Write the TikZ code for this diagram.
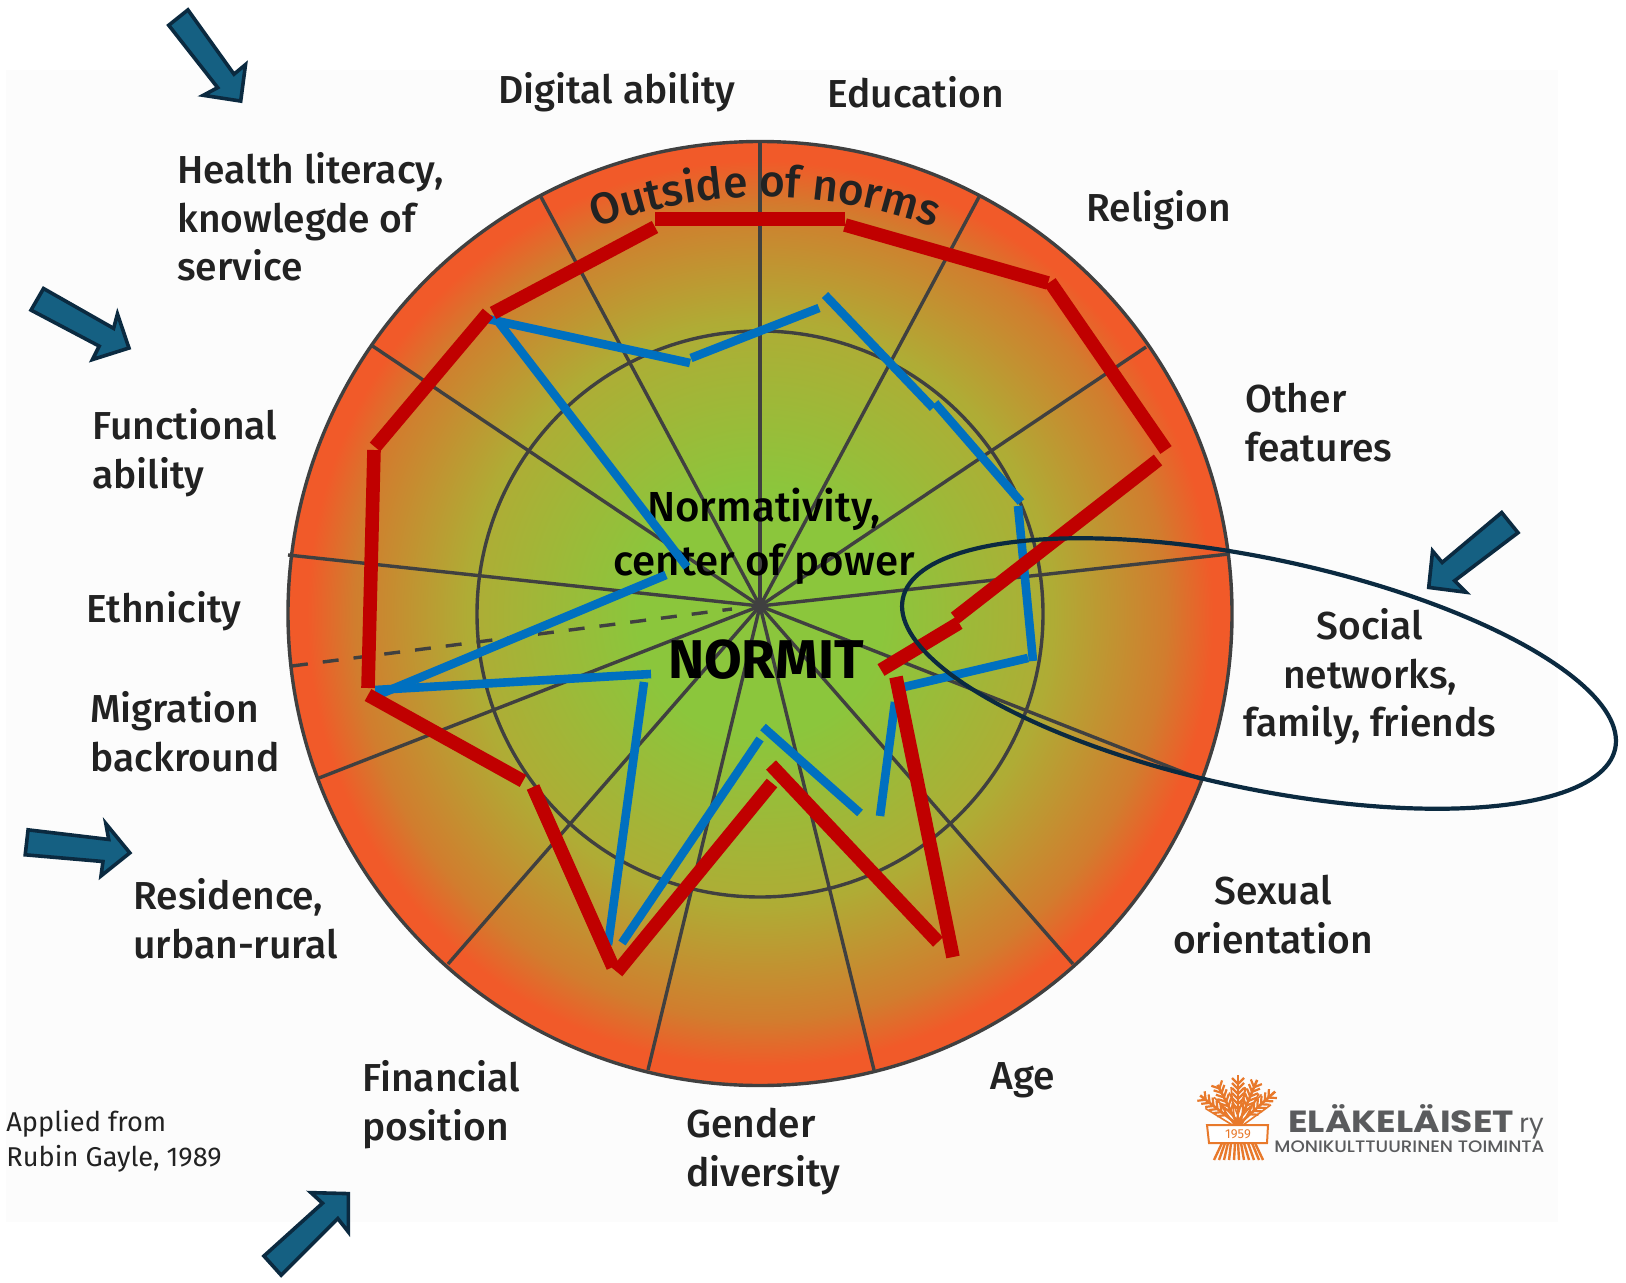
\documentclass[tikz,border=0pt]{standalone}
\usepackage{fontspec}
\usetikzlibrary{decorations.text}
\setmainfont{Fira Sans}
\newfontfamily\medfont{Fira Sans Medium}
\newfontfamily\logofont{Poppins}
\newfontfamily\logomed{Poppins Medium}
\definecolor{pagebg}{HTML}{FCFCFC}
\definecolor{spoke}{HTML}{404040}
\definecolor{normred}{HTML}{C00000}
\definecolor{normblue}{HTML}{0070C0}
\definecolor{arrowfill}{HTML}{156082}
\definecolor{arrowedge}{HTML}{0B2A40}
\definecolor{labeltext}{HTML}{222222}
\definecolor{logoorange}{HTML}{E8792B}
\definecolor{logogrey}{HTML}{5A5B5D}
\definecolor{gradA}{HTML}{8BC63C}
\definecolor{gradB}{HTML}{AFAC35}
\definecolor{gradC}{HTML}{D17D2E}
\definecolor{gradD}{HTML}{F15A29}
\pgfdeclareradialshading{normgrad}{\pgfpoint{0bp}{0bp}}{
 color(0bp)=(gradA);
 color(6.5bp)=(gradA);
 color(15.5bp)=(gradB);
 color(21.5bp)=(gradC);
 color(24bp)=(gradD);
 color(50bp)=(gradD)}
\tikzset{
 x=0.5pt,y=-0.5pt,
 spokeline/.style={draw=spoke,line width=1.7pt},
 redseg/.style={draw=normred,line width=6.8pt},
 blueseg/.style={draw=normblue,line width=4.3pt},
 blockarrow/.style={fill=arrowfill,draw=arrowedge,line width=1.8pt,miter limit=10},
 lab/.style={font=\medfont\fontsize{19.5}{24.3}\selectfont,text=labeltext,inner sep=0pt,align=left,anchor=north west},
 labc/.style={lab,align=center,anchor=north},
 centertext/.style={font=\medfont\fontsize{21}{27}\selectfont,text=black,inner sep=0pt,align=center},
}
\begin{document}
\begin{tikzpicture}
\useasboundingbox (0,0) rectangle (1626,1283);
\fill[pagebg] (6,70) rectangle (1558,1222);
% disc
\shade[shading=normgrad] (760,613.5) circle[radius=472];
% spokes
\coordinate (hub) at (760,606);
\foreach \px/\py in {541/197,760/142,979/197,1146/347,1229/554,1203/780,1073/964,874/1070,648/1070,448/964,319/778,288/555,371/345}
  \draw[spokeline] (hub) -- (\px,\py);
\coordinate (dashA) at (292,666);
\coordinate (dashB) at (732,609);
\draw[spokeline,dash pattern=on 8pt off 7.5pt] (dashA) -- (dashB);
\draw[spokeline] (760,613.5) circle[radius=472];
\draw[spokeline] (760,614) circle[radius=283];
% curved title
\path[decorate,decoration={text along path,text align=center,
  text={|\medfont\fontsize{22}{26}\selectfont\color{labeltext}|Outside of norms}}]
  plot[domain=-24:24,samples=49] ({765+484*sin(\x)},{681-484*cos(\x)});
% labels
\node[lab] (digital) at (498,72) {Digital ability};
\node[lab] (educ) at (827,76) {Education};
\node[lab] (relig) at (1086,190) {Religion};
\node[lab] (other) at (1245,383) {Other\\features};
\node[labc] (social) at (1370,608) {Social\\networks,\\family, friends};
\node[labc] (sexual) at (1273,875) {Sexual\\orientation};
\node[lab] (age) at (990,1062) {Age};
\node[lab] (gender) at (686,1108) {Gender\\diversity};
\node[lab] (financial) at (362,1060) {Financial\\position};
\node[lab] (residence) at (133,878) {Residence,\\urban-rural};
\node[lab] (migration) at (90,691) {Migration\\backround};
\node[lab] (ethnicity) at (86,591) {Ethnicity};
\node[lab] (functional) at (92,408) {Functional\\ability};
\node[lab] (health) at (177,152) {Health literacy,\\knowlegde of\\service};
\node[font=\fontsize{13.6}{17.3}\selectfont,text=labeltext,inner sep=0pt,align=left,anchor=north west] (applied) at (6,1110) {Applied from\\Rubin Gayle, 1989};
\node[centertext,anchor=north] (normativity) at (764,488) {Normativity,\\center of power};
\node[font=\bfseries\fontsize{27.3}{30}\selectfont,text=black,inner sep=0pt] (normit) at (766,660) {NORMIT};
% blue segments
\foreach \ax/\ay/\bx/\by in {488/319/690/363,691/358/819/308,825/295/933/408,935/403/1021/502,1018/506/1033/661,1028/658/904/687,895/702/880/816,860/813/763/727,760/739/622/943,608/945/644/682,651/674/375/690,378/695/666/575,687/567/497/320}
  \draw[blueseg] (\ax,\ay) -- (\bx,\by);
% red segments
\foreach \ax/\ay/\bx/\by in {493/313/655/227,655/219/845/219,845/225/1048/283,1050/282/1166/450,1158/460/955/618,959/623/881/670,896/677/953/957,938/942/771/765,772/783/617/972,613/967/533/787,523/781/368/695,368/688/374/450,375/447/488/313}
  \draw[redseg] (\ax,\ay) -- (\bx,\by);
% ellipse
\draw[arrowedge,line width=2.1pt] plot[domain=0:360,samples=181] ({1259+364*cos(\x)*cos(11.9)-115*sin(\x)*sin(11.9)},{673.5+364*cos(\x)*sin(11.9)+115*sin(\x)*cos(11.9)}) -- cycle;
% block arrows
\draw[blockarrow,scale around={0.96:(210,55)}] (187,8)--(235,75)--(247,65)--(242,103)--(203,97)--(218,89)--(167,24)--cycle;
\draw[blockarrow,scale around={0.96:(80,325)}] (42,287)--(115,328.5)--(119,313.5)--(131,349)--(93,361)--(100,347)--(29,309.5)--cycle;
\draw[blockarrow,scale around={0.96:(78,850)}] (26,829)--(110,839)--(107,822.5)--(132,853)--(102,877)--(104,862)--(23,855)--cycle;
\draw[blockarrow,scale around={0.96:(310,1232)}] (262,1257)--(323,1202)--(311,1191)--(350,1192)--(350,1232)--(339,1218)--(280,1277)--cycle;
\draw[blockarrow,scale around={0.96:(1470,550)}] (1503,511)--(1520,532)--(1454,582)--(1466,594)--(1427,589)--(1431,551)--(1441,563)--cycle;
% logo: sheaf
\foreach \ang/\len in {52/48,27/45,0/50,-23/49,-48/50}{
 \begin{scope}[shift={(1238,1125)},rotate=\ang]
  \draw[logoorange,line width=1.3pt] (0,0) -- (0,-\len);
  \draw[logoorange,line width=0.8pt] (-3,0) -- (-7,-\len+12);
  \draw[logoorange,line width=0.8pt] (3,0) -- (7,-\len+12);
  \foreach \d in {16,21,...,41}{
   \draw[logoorange,line width=1.1pt] (0,-\d) -- (-6,-\d-6);
   \draw[logoorange,line width=1.1pt] (0,-\d) -- (6,-\d-6);
  }
 \end{scope}
}
\foreach \bx/\tx in {1214/1222,1219/1225,1224/1228,1229/1231,1234/1235,1239/1238,1244/1241,1249/1244,1254/1248,1259/1252,1263/1255}
  \draw[logoorange,line width=1.2pt] (\tx,1143) -- (\bx,1160);
\draw[logoorange,fill=white,line width=1pt] (1207,1125) -- (1268,1125) -- (1267,1143) -- (1209,1143) -- cycle;
\node[font=\fontsize{6.5}{8}\selectfont,text=logoorange,inner sep=0pt] (y1959) at (1238,1134) {1959};
\node[font=\logofont\bfseries\fontsize{15.3}{18}\selectfont,text=logogrey,inner sep=0pt,anchor=base west] (elakelaiset) at (1288,1132) {\scalebox{1.18}[1]{ELÄKELÄISET}};
\node[font=\logofont\fontsize{13}{16}\selectfont,text=logogrey,inner sep=0pt,anchor=base west] (ry) at (1519,1132) {ry};
\node[font=\logomed\fontsize{8.3}{10}\selectfont,text=logogrey,inner sep=0pt,anchor=base west] (moni) at (1274,1152) {\scalebox{1.1}[1]{MONIKULTTUURINEN TOIMINTA}};
\end{tikzpicture}
\end{document}
